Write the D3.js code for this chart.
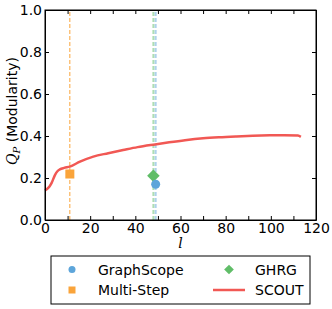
<!DOCTYPE html>
<html>
<head>
<meta charset="utf-8">
<script src="https://d3js.org/d3.v7.min.js"></script>
<style>
  body { margin: 0; background: #fff; font-family: "DejaVu Sans", sans-serif; }
  .axis text { font-size: 14px; font-family: "DejaVu Sans"; fill: #000; }
  .axis path, .axis line { stroke: #000; stroke-width: 1; }
  .legend text { font-size: 14px; font-family: "DejaVu Sans"; }
</style>
</head>
<body>
<svg width="332" height="309"></svg>
<script>
// SCOUT curve (l, modularity)
const scoutL = [0, 0.7, 2, 3, 4.4, 5.5, 6.6, 8.5, 11, 15.5, 21.4, 28, 34.6, 41, 48.7, 55, 62, 70, 77, 84.8, 92, 99.6, 106, 112, 113.3];
const scoutQ = [0.14, 0.146, 0.16, 0.178, 0.214, 0.232, 0.241, 0.248, 0.254, 0.278, 0.302, 0.318, 0.333, 0.347, 0.36, 0.37, 0.38, 0.389, 0.394, 0.398, 0.401, 0.403, 0.404, 0.402, 0.396];
// single methods
const methods = ["GraphScope", "Multi-Step", "GHRG"];
const methodL = [49, 11, 48];
const methodQ = [0.17, 0.219, 0.211];
const xTicks = [0, 10, 20, 30, 40, 50, 60, 70, 80, 90, 100, 110, 120];
const yTicks = [0, 0.2, 0.4, 0.6, 0.8, 1.0];

const col = { blue: "#5DA5DA", orange: "#FAA43A", green: "#60BD68", red: "#F15854" };

const svg = d3.select("svg");
const m = { left: 45, right: 316, top: 10, bottom: 220 };
const x = d3.scaleLinear().domain([0, 120]).range([m.left, m.right]);
const y = d3.scaleLinear().domain([0, 1]).range([m.bottom, m.top]);

// vertical dashed lines
svg.append("line").attr("x1", x(methodL[1])).attr("x2", x(methodL[1]))
  .attr("y1", y(0)).attr("y2", y(1))
  .attr("stroke", col.orange).attr("stroke-width", 1).attr("stroke-dasharray", "4,2");
svg.append("line").attr("x1", x(methodL[2])).attr("x2", x(methodL[2]))
  .attr("y1", y(0)).attr("y2", y(1))
  .attr("stroke", col.green).attr("stroke-opacity", 0.5).attr("stroke-width", 2).attr("stroke-dasharray", "4,2");
svg.append("line").attr("x1", x(methodL[0])).attr("x2", x(methodL[0]))
  .attr("y1", y(0)).attr("y2", y(1))
  .attr("stroke", col.blue).attr("stroke-opacity", 0.5).attr("stroke-width", 2).attr("stroke-dasharray", "4,2");

// SCOUT line
const line = d3.line().curve(d3.curveMonotoneX).x(d => x(d[0])).y(d => y(d[1]));
svg.append("path").datum(scoutL.map((l, i) => [l, scoutQ[i]]))
  .attr("d", line).attr("fill", "none").attr("stroke", col.red).attr("stroke-width", 2.5);

// markers
svg.append("rect").attr("x", x(methodL[1]) - 4.5).attr("y", y(methodQ[1]) - 4.5)
  .attr("width", 9).attr("height", 9).attr("fill", col.orange);
svg.append("path").attr("d", d3.symbol(d3.symbolDiamond2, 100)())
  .attr("transform", `translate(${x(methodL[2])},${y(methodQ[2])})`).attr("fill", col.green);
svg.append("circle").attr("cx", x(methodL[0])).attr("cy", y(methodQ[0])).attr("r", 4.5).attr("fill", col.blue);

// axes (inward ticks, on all sides)
const fmtX = d => d % 20 === 0 ? d : "";
svg.append("g").attr("class", "axis").attr("transform", `translate(0,${m.bottom})`)
  .call(d3.axisBottom(x).tickValues(xTicks).tickSizeInner(-4).tickSizeOuter(0).tickPadding(3).tickFormat(fmtX));
svg.append("g").attr("class", "axis").attr("transform", `translate(0,${m.top})`)
  .call(d3.axisTop(x).tickValues(xTicks).tickSizeInner(-4).tickSizeOuter(0).tickFormat(""));
svg.append("g").attr("class", "axis").attr("transform", `translate(${m.left},0)`)
  .call(d3.axisLeft(y).tickValues(yTicks).tickSizeInner(-4).tickSizeOuter(0).tickPadding(3).tickFormat(d3.format(".1f")));
svg.append("g").attr("class", "axis").attr("transform", `translate(${m.right},0)`)
  .call(d3.axisRight(y).tickValues(yTicks).tickSizeInner(-4).tickSizeOuter(0).tickFormat(""));
svg.append("rect").attr("x", m.left).attr("y", m.top).attr("width", m.right - m.left).attr("height", m.bottom - m.top)
  .attr("fill", "none").attr("stroke", "#000");

// axis labels
svg.append("text").attr("x", x(60)).attr("y", 248).attr("text-anchor", "middle")
  .style("font-family", "DejaVu Serif").style("font-style", "italic").style("font-size", "14px").text("l");
const yl = svg.append("text").attr("transform", `translate(17,${y(0.5) - 4}) rotate(-90)`)
  .attr("text-anchor", "middle").style("font-size", "14px");
yl.append("tspan").style("font-family", "DejaVu Serif").style("font-style", "italic").text("Q");
yl.append("tspan").attr("dy", 3).style("font-size", "10px").style("font-family", "DejaVu Serif").style("font-style", "italic").text("P");
yl.append("tspan").attr("dy", -3).text("\u00a0(Modularity)");

// legend
const lg = svg.append("g").attr("class", "legend");
lg.append("rect").attr("x", 51).attr("y", 256).attr("width", 259).attr("height", 48)
  .attr("fill", "#fff").attr("stroke", "#000").attr("stroke-width", 1);
const r1 = 269.5, r2 = 290;
lg.append("circle").attr("cx", 72).attr("cy", r1).attr("r", 3.5).attr("fill", col.blue);
lg.append("text").attr("x", 98).attr("y", r1 + 5).text(methods[0]);
lg.append("rect").attr("x", 68.5).attr("y", r2 - 3.5).attr("width", 7).attr("height", 7).attr("fill", col.orange);
lg.append("text").attr("x", 98).attr("y", r2 + 5).text(methods[1]);
lg.append("path").attr("d", d3.symbol(d3.symbolDiamond2, 60)())
  .attr("transform", `translate(229,${r1})`).attr("fill", col.green);
lg.append("text").attr("x", 255).attr("y", r1 + 5).text(methods[2]);
lg.append("line").attr("x1", 213).attr("x2", 245).attr("y1", r2).attr("y2", r2)
  .attr("stroke", col.red).attr("stroke-width", 2.5);
lg.append("text").attr("x", 255).attr("y", r2 + 5).text("SCOUT");
</script>
</body>
</html>
